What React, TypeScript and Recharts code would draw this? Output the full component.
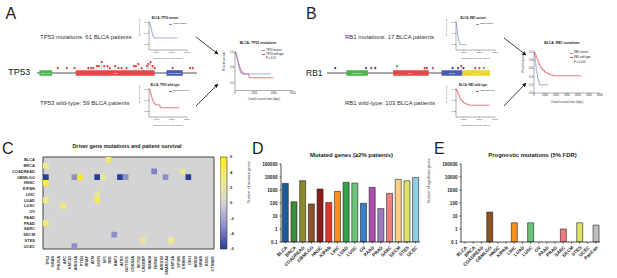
import React from 'react';
import { BarChart, Bar, Cell, XAxis, YAxis, ScatterChart, Scatter, LineChart, Line, ComposedChart, ReferenceArea, CartesianGrid, Label } from 'recharts';

// ---- panel D / E : bar charts ----
const cancers = ['BLCA', 'BRCA', 'COADREAD', 'GBMLGG', 'HNSC', 'KIPAN', 'LIHC', 'LUAD', 'LUSC', 'OV', 'PAAD', 'PRAD', 'SARC', 'SKCM', 'STES', 'UCEC'];
const cancerColors = ['#1d5c9c', '#3f8f3a', '#8a8a2a', '#8a5424', '#8b1c1c', '#e8322a', '#f6921e', '#2fa24b', '#6cc27a', '#3d7ec8', '#b04cb0', '#a07cc0', '#f07c7c', '#fdcf86', '#dbe36c', '#8fd0e6'];
const mutatedGenes = [3200, 124, 5200, 85, 1200, 110, 790, 3900, 3400, 95, 1600, 37, 550, 6600, 5100, 9000];
const progCancers = [...cancers, 'PanCan'];
const progColors = [...cancerColors, '#bdbdbd'];
const progGenes = [null, null, null, 20, null, null, 3, null, 3, null, null, null, 1, null, 3, null, 2];
const logTicks = [0.1, 1, 10, 100, 1000, 10000, 100000];

// ---- panel C : heatmap ----
const driverGenes = ['TP53', 'KRAS', 'PIK3CA', 'APC', 'KMT2D', 'ARID1A', 'PTEN', 'BRAF', 'ATM', 'EGFR', 'NF1', 'RB1', 'BAP1', 'ATRX', 'NOTCH1', 'CDKN2A', 'SETD2', 'CREBBP', 'SMAD4', 'FBXW7', 'ARID1B', 'SMARCA4', 'KMT2A', 'EP300', 'ERBB4', 'IDH1', 'ARID2', 'NRAS', 'ROS1', 'CTNNB1'];
const hitCancer = ['BLCA', 'BRCA', 'COADREAD', 'COADREAD', 'GBMLGG', 'GBMLGG', 'GBMLGG', 'GBMLGG', 'GBMLGG', 'GBMLGG', 'GBMLGG', 'GBMLGG', 'GBMLGG', 'HNSC', 'LIHC', 'LUAD', 'LUAD', 'LUSC', 'PRAD', 'SKCM', 'STES', 'STES', 'UCEC'];
const hitGene = ['RB1', 'TP53', 'FBXW7', 'ERBB4', 'TP53', 'ARID1A', 'PTEN', 'EGFR', 'NF1', 'ATRX', 'NOTCH1', 'SMARCA4', 'IDH1', 'TP53', 'EGFR', 'TP53', 'EGFR', 'APC', 'TP53', 'BAP1', 'CREBBP', 'KMT2A', 'ARID1A'];
const hitScore = [4, 3, -3.5, 2.5, -6, -3, 6, -6, 2.5, -6, -3, -3, -6, 5, 2.5, 3, 4.5, 3, 3.5, -3, 2.5, 3, -3];
const cbTicks = [-6, -4, -2, 0, 2, 4, 6];

// ---- panels A / B : survival curves ----
const tp53MutT = [0, 60, 120, 180, 240, 300, 360, 420, 480, 560, 650, 760, 3700];
const tp53MutS = [1, 0.97, 0.92, 0.86, 0.79, 0.72, 0.65, 0.58, 0.52, 0.47, 0.44, 0.43, 0.43];
const tp53WtT = [0, 70, 140, 210, 280, 350, 430, 520, 620, 740, 900, 1450, 4000];
const tp53WtS = [1, 0.96, 0.9, 0.83, 0.76, 0.69, 0.62, 0.56, 0.5, 0.46, 0.43, 0.33, 0.33];
const rb1MutT = [0, 40, 80, 120, 160, 200, 260, 320, 400, 480, 1300];
const rb1MutS = [1, 0.94, 0.88, 0.76, 0.65, 0.53, 0.47, 0.35, 0.29, 0.2, 0.2];
const rb1WtT = [0, 60, 120, 200, 280, 360, 450, 550, 650, 800, 950, 1100, 1250, 1450, 1700, 4300];
const rb1WtS = [1, 0.97, 0.93, 0.88, 0.82, 0.76, 0.7, 0.64, 0.6, 0.55, 0.51, 0.49, 0.47, 0.44, 0.42, 0.42];
const dayTicks5 = [0, 1000, 2000, 3000, 4000, 5000];
const dayTicks6 = [0, 1000, 2000, 3000, 4000, 5000, 6000];
const survTicks = [0, 0.2, 0.4, 0.6, 0.8, 1];

// ---- gene diagrams ----
const tp53Len = 393;
const tp53Pos = [51, 73, 92, 126, 133, 138, 147, 152, 159, 165, 173, 179, 192, 200, 208, 220, 238, 243, 249, 257, 270, 274, 279, 284, 289, 333, 376, 383];
const tp53Count = [1, 1, 1, 1, 1, 1, 2, 2, 4, 2, 2, 1, 2, 1, 1, 1, 2, 2, 3, 1, 2, 3, 4, 2, 1, 1, 1, 1];
const tp53DomName = ['P53_TAD', 'P53', 'P53_tetramer'];
const tp53DomStart = [6, 95, 318];
const tp53DomEnd = [37, 289, 358];
const tp53DomColor = ['#4cb84c', '#e8474a', '#4a5bb8'];

const rb1Len = 928;
const rb1Pos = [47, 222, 252, 275, 398, 556, 569, 603, 715, 746, 764, 777, 844, 868, 893];
const rb1Count = [1, 1, 1, 1, 2, 1, 1, 1, 1, 1, 2, 1, 1, 1, 1];
const rb1HeadColor = ['#2b2f8f', '#2b2f8f', '#c0304a', '#2b2f8f', '#3cae3c', '#d8303a', '#d8303a', '#d8303a', '#2b2f8f', '#5a2f8f', '#d8303a', '#2b2f8f', '#d8303a', '#d8303a', '#3cae3c'];
const rb1DomName = ['DUF3452', 'RB_A', 'RB_B', 'Rb_C'];
const rb1DomStart = [110, 376, 652, 771];
const rb1DomEnd = [233, 579, 771, 928];
const rb1DomColor = ['#4cb84c', '#e8474a', '#4a5bb8', '#eed52c'];

const MUT_COLOR = '#7b8fc4';
const WT_COLOR = '#e0474c';
const FONT = '"Liberation Sans", Arial, sans-serif';

// colour scale of the heatmap (blue - grey - yellow)
const zStops = [
  [-6, [43, 60, 154]],
  [-3, [140, 144, 200]],
  [0, [212, 212, 212]],
  [3, [238, 234, 140]],
  [6, [247, 234, 30]],
] as [number, number[]][];
const zColor = (z: number) => {
  for (let i = 0; i < zStops.length - 1; i++) {
    const [a, ca] = zStops[i];
    const [b, cb] = zStops[i + 1];
    if (z <= b) {
      const f = Math.max(0, (z - a) / (b - a));
      const c = ca.map((v, k) => Math.round(v + (cb[k] - v) * f));
      return `rgb(${c.join(',')})`;
    }
  }
  return 'rgb(247,234,30)';
};

const pts = (t: number[], s: number[]) => t.map((v, i) => ({ t: v, s: s[i] }));

const Txt = ({ x, y, fs, children, bold = false, center = false, color = '#222' }: any) => (
  <div
    style={{
      position: 'absolute', left: x, top: y, fontSize: fs, lineHeight: 1, whiteSpace: 'nowrap',
      fontWeight: bold ? 'bold' : 'normal', color,
      transform: `translate(${center ? '-50%' : '0'}, -50%)`,
    }}
  >
    {children}
  </div>
);

const Swatch = ({ x, y, color }: any) => (
  <div style={{ position: 'absolute', left: x, top: y - 0.3, width: 3, height: 0.6, background: color }} />
);

type Curve = { t: number[]; s: number[]; color: string };

const KMPlot = ({ left, top, width, height, mTop, mRight, yW, xH, xTicks, curves, fs }: any) => (
  <div style={{ position: 'absolute', left, top }}>
    <LineChart width={width} height={height} margin={{ top: mTop, right: mRight, bottom: 0, left: 0 }}>
      <XAxis
        type="number" dataKey="t" domain={[0, xTicks[xTicks.length - 1]]} ticks={xTicks} height={xH}
        tick={{ fontSize: fs, fill: '#333' }} tickSize={1} tickMargin={0.3} stroke="#333" strokeWidth={0.4}
        allowDuplicatedCategory={false}
      >
        <Label value="Overall survival time (days)" position="insideBottom" offset={xH * 0.25} fontSize={fs} fill="#333" />
      </XAxis>
      <YAxis
        type="number" dataKey="s" domain={[0, 1]} ticks={survTicks} width={yW} tickFormatter={(v: number) => v.toFixed(1)}
        tick={{ fontSize: fs, fill: '#333' }} tickSize={1} tickMargin={0.3} stroke="#333" strokeWidth={0.4}
      >
        <Label value="Percent survival" angle={-90} position="insideLeft" offset={yW * 0.15} fontSize={fs} fill="#333" />
      </YAxis>
      {curves.map((c: Curve, i: number) => (
        <Line key={i} data={pts(c.t, c.s)} dataKey="s" type="stepAfter" stroke={c.color} strokeWidth={0.7} dot={false} isAnimationActive={false} />
      ))}
    </LineChart>
  </div>
);

// gene diagram: backbone at y=-1.5, domains -2.9..-0.1, lollipops at mutation count
const GENE_H = 16;
const GENE_Y = [-3, 5];
const domTopPx = ((GENE_Y[1] - -0.1) / (GENE_Y[1] - GENE_Y[0])) * GENE_H;

const Lolli = (p: any) => (
  <g>
    <line x1={p.cx} x2={p.cx} y1={domTopPx} y2={p.cy} stroke="#9a9a9a" strokeWidth={0.45} />
    <circle cx={p.cx} cy={p.cy} r={1.1} fill={p.payload.color} />
  </g>
);

const GeneDiagram = ({ left, top, width, len, pos, count, colors, domName, domStart, domEnd, domColor }: any) => {
  const muts = pos.map((x: number, i: number) => ({ x, y: count[i], color: Array.isArray(colors) ? colors[i] : colors }));
  return (
    <div style={{ position: 'absolute', left, top }}>
      <ComposedChart width={width} height={GENE_H} margin={{ top: 0, right: 0, bottom: 0, left: 0 }}>
        <XAxis type="number" dataKey="x" domain={[0, len]} hide />
        <YAxis type="number" dataKey="y" domain={GENE_Y} hide />
        <ReferenceArea x1={0} x2={len} y1={-1.95} y2={-1.05} fill="#a8a8a8" fillOpacity={1} stroke="none" />
        {domName.map((n: string, i: number) => (
          <ReferenceArea
            key={n} x1={domStart[i]} x2={domEnd[i]} y1={-2.9} y2={-0.1} fill={domColor[i]} fillOpacity={1} stroke="none"
            label={{ value: n, fontSize: 2.2, fill: '#fff', position: 'center' }}
          />
        ))}
        <Scatter data={muts} shape={Lolli} isAnimationActive={false} />
      </ComposedChart>
    </div>
  );
};

const HeatCell = (p: any) => (
  <rect x={p.cx - 171 / 30 / 2} y={p.cy - 92 / 16 / 2} width={171 / 30} height={92 / 16} fill={zColor(p.payload.z)} />
);

const axisTick = { fontSize: 4.6, fill: '#222', fontWeight: 'bold' };

const LogBars = ({ left, names, values, colors, yLabel }: any) => {
  // range bars starting at the bottom of the log axis
  const data = names.map((n: string, i: number) => ({ name: n, v: values[i] == null ? null : [logTicks[0], values[i]], color: colors[i] }));
  return (
    <div style={{ position: 'absolute', left, top: 158 }}>
      <BarChart width={185} height={120} data={data} margin={{ top: 6, right: 5, bottom: 0, left: 0 }} barCategoryGap="15%">
        <XAxis dataKey="name" interval={0} angle={-45} textAnchor="end" height={36} tick={axisTick} tickSize={1.5} stroke="#222" strokeWidth={0.8} />
        <YAxis
          scale="log" type="number" domain={[0.1, 100000]} ticks={logTicks} allowDataOverflow width={41}
          tickFormatter={(v: number) => String(v)} tick={axisTick} tickSize={1.5} stroke="#222" strokeWidth={0.8}
        >
          <Label value={yLabel} angle={-90} position="insideLeft" offset={9} fontSize={3.6} fill="#333" />
        </YAxis>
        <Bar dataKey="v" stroke="#222" strokeWidth={0.6} isAnimationActive={false}>
          {data.map((d: any, i: number) => (
            <Cell key={i} fill={d.color} />
          ))}
        </Bar>
      </BarChart>
    </div>
  );
};

export default function App() {
  const cells = hitGene.map((g, i) => ({ x: driverGenes.indexOf(g), y: cancers.indexOf(hitCancer[i]), z: hitScore[i] }));
  const geneIdx = driverGenes.map((_, i) => i);
  const cancerIdx = cancers.map((_, i) => i);

  return (
    <div style={{ position: 'absolute', left: 0, top: 0, width: 617, height: 278, overflow: 'hidden', background: '#fff', fontFamily: FONT, color: '#222' }}>
      <svg width={0} height={0} style={{ position: 'absolute' }}>
        <defs>
          <linearGradient id="cbGrad" x1="0" y1="0" x2="0" y2="1">
            <stop offset="0%" stopColor={zColor(6)} />
            <stop offset="25%" stopColor={zColor(3)} />
            <stop offset="50%" stopColor={zColor(0)} />
            <stop offset="75%" stopColor={zColor(-3)} />
            <stop offset="100%" stopColor={zColor(-6)} />
          </linearGradient>
          <marker id="arr" viewBox="0 0 10 10" refX="9" refY="5" markerWidth="5" markerHeight="5" orient="auto">
            <path d="M0,0 L10,5 L0,10 z" fill="#111" />
          </marker>
        </defs>
      </svg>

      {/* panel letters */}
      <Txt x={5.5} y={14} fs={16}>A</Txt>
      <Txt x={306} y={14} fs={16}>B</Txt>
      <Txt x={2} y={149} fs={16}>C</Txt>
      <Txt x={252} y={149} fs={16}>D</Txt>
      <Txt x={434} y={149} fs={16}>E</Txt>

      {/* ---- A ---- */}
      <Txt x={40} y={36.5} fs={6} color="#333">TP53 mutations: 61 BLCA patients</Txt>
      <Txt x={40} y={102.7} fs={6} color="#333">TP53 wild-type: 59 BLCA patients</Txt>
      <Txt x={8} y={72.8} fs={9.3} color="#222">TP53</Txt>
      <GeneDiagram
        left={37} top={60} width={160} len={tp53Len} pos={tp53Pos} count={tp53Count} colors="#e0302a"
        domName={tp53DomName} domStart={tp53DomStart} domEnd={tp53DomEnd} domColor={tp53DomColor}
      />
      <KMPlot left={137} top={12} width={54} height={50} mTop={10} mRight={4} yW={12} xH={12} xTicks={dayTicks5} fs={2.4}
        curves={[{ t: tp53MutT, s: tp53MutS, color: MUT_COLOR }]} />
      <Txt x={165} y={17.5} fs={2.8} bold center>BLCA: TP53 mutant</Txt>
      <Swatch x={169} y={24} color={MUT_COLOR} />
      <Txt x={173} y={24} fs={2.4}>TP53 mutant</Txt>
      <KMPlot left={137} top={79} width={54} height={50} mTop={10} mRight={4} yW={12} xH={12} xTicks={dayTicks5} fs={2.4}
        curves={[{ t: tp53WtT, s: tp53WtS, color: WT_COLOR }]} />
      <Txt x={165} y={84.5} fs={2.8} bold center>BLCA: TP53 wild-type</Txt>
      <Swatch x={169} y={91} color={WT_COLOR} />
      <Txt x={173} y={91} fs={2.4}>TP53 wild-type</Txt>
      <KMPlot left={222} top={44} width={74} height={59} mTop={8} mRight={3} yW={13} xH={12.5} xTicks={dayTicks6} fs={2.7}
        curves={[{ t: tp53WtT, s: tp53WtS, color: WT_COLOR }, { t: tp53MutT, s: tp53MutS, color: MUT_COLOR }]} />
      <Txt x={258} y={43.5} fs={3.4} bold center>BLCA: TP53 mutations</Txt>
      <Swatch x={262} y={50.5} color={MUT_COLOR} />
      <Txt x={266} y={50.5} fs={2.7}>TP53 mutant</Txt>
      <Swatch x={262} y={54.5} color={WT_COLOR} />
      <Txt x={266} y={54.5} fs={2.7}>TP53 wild-type</Txt>
      <Txt x={266} y={58.5} fs={2.7}>P = 0.52</Txt>

      {/* ---- B ---- */}
      <Txt x={345} y={36.7} fs={6} color="#333">RB1 mutations: 17 BLCA patients</Txt>
      <Txt x={345} y={103.3} fs={6} color="#333">RB1 wild-type: 103 BLCA patients</Txt>
      <Txt x={306} y={73} fs={8.5} color="#222">RB1</Txt>
      <GeneDiagram
        left={327} top={60} width={163} len={rb1Len} pos={rb1Pos} count={rb1Count} colors={rb1HeadColor}
        domName={rb1DomName} domStart={rb1DomStart} domEnd={rb1DomEnd} domColor={rb1DomColor}
      />
      <KMPlot left={444} top={12} width={55} height={50} mTop={10} mRight={4} yW={12} xH={12} xTicks={dayTicks5} fs={2.4}
        curves={[{ t: rb1MutT, s: rb1MutS, color: MUT_COLOR }]} />
      <Txt x={473} y={17.5} fs={2.8} bold center>BLCA: RB1 mutant</Txt>
      <Swatch x={476} y={24} color={MUT_COLOR} />
      <Txt x={480} y={24} fs={2.4}>RB1 mutant</Txt>
      <KMPlot left={444} top={79} width={55} height={50} mTop={10} mRight={4} yW={12} xH={12} xTicks={dayTicks5} fs={2.4}
        curves={[{ t: rb1WtT, s: rb1WtS, color: WT_COLOR }]} />
      <Txt x={473} y={84.5} fs={2.8} bold center>BLCA: RB1 wild-type</Txt>
      <Swatch x={476} y={91} color={WT_COLOR} />
      <Txt x={480} y={91} fs={2.4}>RB1 wild-type</Txt>
      <KMPlot left={521} top={44} width={82} height={62} mTop={8} mRight={3} yW={13} xH={13} xTicks={dayTicks6} fs={2.7}
        curves={[{ t: rb1WtT, s: rb1WtS, color: WT_COLOR }, { t: rb1MutT, s: rb1MutS, color: MUT_COLOR }]} />
      <Txt x={562} y={44} fs={3.4} bold center>BLCA: RB1 mutations</Txt>
      <Swatch x={570} y={53.3} color={MUT_COLOR} />
      <Txt x={574} y={53.3} fs={2.7}>RB1 mutant</Txt>
      <Swatch x={570} y={57.7} color={WT_COLOR} />
      <Txt x={574} y={57.7} fs={2.7}>RB1 wild-type</Txt>
      <Txt x={574} y={63} fs={2.7}>P = 0.004</Txt>

      {/* arrows */}
      <svg width={617} height={140} style={{ position: 'absolute', left: 0, top: 0 }}>
        <line x1={196} y1={37} x2={218} y2={54} stroke="#111" strokeWidth={0.8} markerEnd="url(#arr)" />
        <line x1={196} y1={106} x2={218} y2={84} stroke="#111" strokeWidth={0.8} markerEnd="url(#arr)" />
        <line x1={504} y1={38} x2={526} y2={55} stroke="#111" strokeWidth={0.8} markerEnd="url(#arr)" />
        <line x1={504} y1={106} x2={526} y2={83} stroke="#111" strokeWidth={0.8} markerEnd="url(#arr)" />
      </svg>

      {/* ---- C : heatmap ---- */}
      <Txt x={127} y={146.5} fs={5.4} bold center>Driver gene mutations and patient survival</Txt>
      <div style={{ position: 'absolute', left: 0, top: 150 }}>
        <ScatterChart width={240} height={128} margin={{ top: 7, right: 26, bottom: 0, left: 0 }}>
          <CartesianGrid fill="#d4d4d4" horizontal={false} vertical={false} />
          <XAxis
            type="number" dataKey="x" domain={[-0.5, 29.5]} ticks={geneIdx} interval={0} tickFormatter={(i: number) => driverGenes[i]}
            angle={-90} textAnchor="end" height={29} tick={{ fontSize: 3.8, fill: '#333', fontWeight: 'bold' }}
            tickLine={false} axisLine={false} tickMargin={1}
          />
          <YAxis
            type="number" dataKey="y" domain={[-0.5, 15.5]} reversed ticks={cancerIdx} interval={0} tickFormatter={(i: number) => cancers[i]}
            width={43} tick={{ fontSize: 4, fill: '#333', fontWeight: 'bold' }} tickLine={false} axisLine={false} tickMargin={2}
          />
          <Scatter data={cells} shape={HeatCell} isAnimationActive={false} />
          <ReferenceArea x1={-0.5} x2={29.5} y1={-0.5} y2={15.5} fill="none" stroke="#444" strokeWidth={1} />
        </ScatterChart>
      </div>
      <div style={{ position: 'absolute', left: 220, top: 150 }}>
        <BarChart width={22} height={128} data={[{ name: 'z', v: [cbTicks[0], cbTicks[cbTicks.length - 1]] }]} margin={{ top: 7, right: 0, bottom: 29, left: 0 }} barCategoryGap={0}>
          <XAxis dataKey="name" hide />
          <YAxis
            orientation="right" type="number" domain={[-6, 6]} ticks={cbTicks} width={15} axisLine={false}
            tick={{ fontSize: 4.2, fill: '#333', fontWeight: 'bold' }} tickSize={0} tickMargin={3}
          />
          <Bar dataKey="v" fill="url(#cbGrad)" stroke="#333" strokeWidth={0.6} isAnimationActive={false} />
        </BarChart>
      </div>

      {/* ---- D / E ---- */}
      <Txt x={351.5} y={155.7} fs={5.9} bold center>Mutated genes (≥2% patients)</Txt>
      <LogBars left={240} names={cancers} values={mutatedGenes} colors={cancerColors} yLabel="Number of mutated genes" />
      <Txt x={532.5} y={155.7} fs={5.9} bold center>Prognostic mutations (5% FDR)</Txt>
      <LogBars left={420} names={progCancers} values={progGenes} colors={progColors} yLabel="Number of significant genes" />
    </div>
  );
}
